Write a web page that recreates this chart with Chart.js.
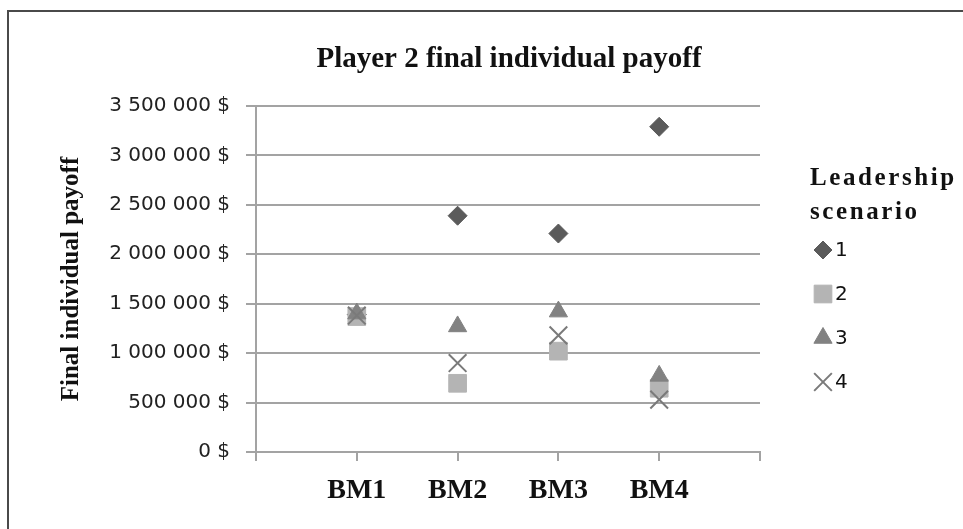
<!DOCTYPE html>
<html>
<head>
<meta charset="utf-8">
<script src="https://cdn.jsdelivr.net/npm/chart.js@4/dist/chart.umd.min.js"></script>
<style>
  html, body { margin: 0; padding: 0; background: #ffffff; }
  #wrap { width: 963px; height: 529px; }
</style>
</head>
<body>
<div id="wrap"><canvas id="c" width="963" height="529"></canvas></div>
<script>
// Benchmark categories on the x axis (placed at positions 1..4 of a 0..5 axis)
const categories = ['BM1', 'BM2', 'BM3', 'BM4'];

// Final payoff of player 2 for each leadership scenario ($)
const scenario1 = [1390000, 2390000, 2210000, 3290000];
const scenario2 = [1370000, 695000, 1020000, 645000];
const scenario3 = [1400000, 1270000, 1420000, 770000];
const scenario4 = [1380000, 900000, 1180000, 530000];

const scenarioNames = ['1', '2', '3', '4'];
const yTicks = [0, 500000, 1000000, 1500000, 2000000, 2500000, 3000000, 3500000];

const chartTitle = 'Player 2 final individual payoff';
const yTitle = 'Final individual payoff';
const legendTitle = ['Leadership', 'scenario'];

const GRID = '#a3a3a3';
const SERIF = '"Liberation Serif", "Times New Roman", serif';
const SANS = '"DejaVu Sans", Tahoma, sans-serif';

// "3 500 000 $" style money labels
function money(v) {
  const s = String(Math.round(v)).replace(/\B(?=(\d{3})+(?!\d))/g, ' ');
  return s + ' $';
}

const styles = [
  { pointStyle: 'rectRot', radius: 9.5, bg: '#5b5b5b', border: '#5b5b5b', bw: 1 },
  { pointStyle: 'rect', radius: 12.5, bg: '#b4b4b4', border: '#b4b4b4', bw: 1 },
  { pointStyle: 'triangle', radius: 10.5, bg: '#828282', border: '#828282', bw: 1 },
  { pointStyle: 'crossRot', radius: 12.5, bg: 'rgba(0,0,0,0)', border: '#7a7a7a', bw: 2 }
];
const seriesData = [scenario1, scenario2, scenario3, scenario4];

const datasets = seriesData.map((d, i) => ({
  label: scenarioNames[i],
  data: d.map((v, j) => ({ x: j + 1, y: v })),
  showLine: false,
  pointStyle: styles[i].pointStyle,
  pointRadius: styles[i].radius,
  pointHoverRadius: styles[i].radius,
  pointBackgroundColor: styles[i].bg,
  pointBorderColor: styles[i].border,
  pointBorderWidth: styles[i].bw,
  backgroundColor: styles[i].bg,
  borderColor: styles[i].border,
  order: 4 - i
}));

// Frame, title and side legend
const decorations = {
  id: 'decorations',
  beforeDraw(chart) {
    const ctx = chart.ctx;
    ctx.save();
    ctx.fillStyle = '#ffffff';
    ctx.fillRect(0, 0, chart.width, chart.height);
    ctx.strokeStyle = '#4a4a4a';
    ctx.lineWidth = 2;
    ctx.beginPath();
    ctx.moveTo(8, chart.height);
    ctx.lineTo(8, 11);
    ctx.lineTo(chart.width, 11);
    ctx.stroke();
    ctx.restore();
  },
  afterDraw(chart) {
    const ctx = chart.ctx;
    ctx.save();
    ctx.fillStyle = '#111111';
    ctx.textBaseline = 'middle';
    // chart title
    ctx.font = 'bold 29px ' + SERIF;
    ctx.textAlign = 'center';
    ctx.fillText(chartTitle, 509, 60);
    // legend title
    ctx.textAlign = 'left';
    ctx.font = 'bold 25px ' + SERIF;
    ctx.letterSpacing = '2.6px';
    ctx.fillText(legendTitle[0], 810, 179);
    ctx.fillText(legendTitle[1], 810, 213);
    ctx.letterSpacing = '0px';
    // legend entries
    ctx.font = '20px ' + SANS;
    chart.data.datasets.forEach((ds, i) => {
      const y = 250 + i * 44;
      const r = [9, 12.5, 10.5, 12.5][i];
      ctx.fillStyle = ds.pointBackgroundColor;
      ctx.strokeStyle = ds.pointBorderColor;
      ctx.lineWidth = ds.pointBorderWidth;
      Chart.helpers.drawPoint(ctx, { pointStyle: ds.pointStyle, radius: r, borderWidth: ds.pointBorderWidth, rotation: 0 }, 823, y);
      ctx.fillStyle = '#111111';
      ctx.fillText(ds.label, 835, y + 1);
    });
    ctx.restore();
  }
};

new Chart(document.getElementById('c'), {
  type: 'scatter',
  data: { datasets },
  plugins: [decorations],
  options: {
    responsive: false,
    animation: false,
    devicePixelRatio: 1,
    layout: { padding: { top: 106, right: 203, left: 0, bottom: 0 } },
    plugins: {
      legend: { display: false },
      title: { display: false },
      tooltip: { enabled: false }
    },
    scales: {
      x: {
        type: 'linear',
        min: 0,
        max: categories.length + 1,
        afterBuildTicks(scale) {
          const t = [];
          for (let i = 0; i <= categories.length + 1; i++) t.push({ value: i });
          scale.ticks = t;
        },
        grid: { drawOnChartArea: false, drawTicks: true, tickLength: 9, color: GRID, lineWidth: 2 },
        border: { display: true, color: GRID, width: 2 },
        ticks: {
          color: '#111111',
          font: { family: SERIF, size: 28, weight: 'bold' },
          padding: 13,
          maxRotation: 0,
          autoSkip: false,
          callback: v => categories[v - 1] || ''
        },
        afterFit(scale) { scale.height = 77; }
      },
      y: {
        min: 0,
        max: 3500000,
        afterBuildTicks(scale) { scale.ticks = yTicks.map(v => ({ value: v })); },
        grid: { color: GRID, lineWidth: 2, drawTicks: true, tickLength: 10 },
        border: { display: true, color: GRID, width: 2 },
        ticks: { color: '#222222', font: { family: SANS, size: 20 }, padding: 16, callback: v => money(v) },
        title: {
          display: true,
          text: yTitle,
          color: '#111111',
          font: { family: SERIF, size: 25, weight: 'bold' },
          padding: { top: 57, bottom: 0 }
        },
        afterFit(scale) { scale.width = 256; }
      }
    }
  }
});
</script>
</body>
</html>
